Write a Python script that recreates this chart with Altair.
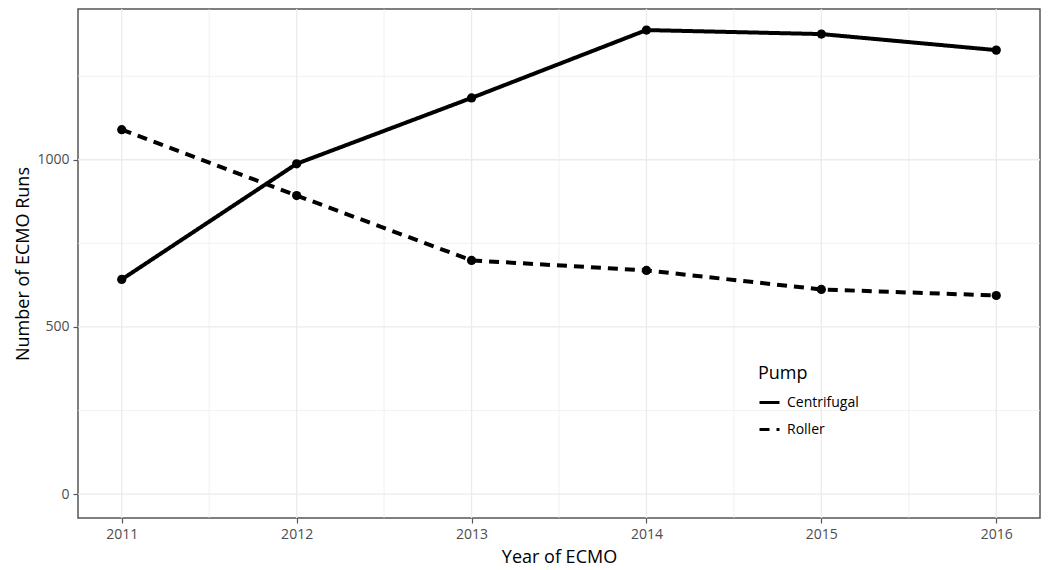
import altair as alt
import pandas as pd

years = [2011, 2012, 2013, 2014, 2015, 2016]
centrifugal = [642, 988, 1185, 1388, 1376, 1328]
roller = [1090, 893, 699, 669, 612, 594]
pumps = ["Centrifugal", "Roller"]
x_major = [2011, 2012, 2013, 2014, 2015, 2016]
x_minor = [2011.5, 2012.5, 2013.5, 2014.5, 2015.5]
y_major = [0, 500, 1000]
y_minor = [250, 750, 1250]

df = pd.DataFrame({
    "Year": years * 2,
    "Runs": centrifugal + roller,
    "Pump": [pumps[0]] * len(years) + [pumps[1]] * len(years),
})

FONT = "Open Sans"
xs = alt.Scale(domain=[2010.75, 2016.25], nice=False, zero=False)
ys = alt.Scale(domain=[-71.6, 1451], nice=False, zero=False)

xminor = alt.Chart(pd.DataFrame({"v": x_minor})).mark_rule(color="#ebebeb", strokeWidth=0.7).encode(
    x=alt.X("v:Q", scale=xs))
yminor = alt.Chart(pd.DataFrame({"v": y_minor})).mark_rule(color="#ebebeb", strokeWidth=0.7).encode(
    y=alt.Y("v:Q", scale=ys))
xmajor = alt.Chart(pd.DataFrame({"v": x_major})).mark_rule(color="#ebebeb", strokeWidth=1.3).encode(
    x=alt.X("v:Q", scale=xs))
ymajor = alt.Chart(pd.DataFrame({"v": y_major})).mark_rule(color="#ebebeb", strokeWidth=1.3).encode(
    y=alt.Y("v:Q", scale=ys))

base = alt.Chart(df)
lines = base.mark_line(color="black", strokeWidth=4).encode(
    x=alt.X("Year:Q", scale=xs, title="Year of ECMO",
            axis=alt.Axis(values=x_major, format="d", grid=False)),
    y=alt.Y("Runs:Q", scale=ys, title="Number of ECMO Runs",
            axis=alt.Axis(values=y_major, format="d", grid=False, titleX=-46)),
    strokeDash=alt.StrokeDash("Pump:N", scale=alt.Scale(domain=pumps, range=[[1, 0], [10, 7]]),
                              legend=alt.Legend(title="Pump", orient="none", legendX=680, legendY=356,
                                                symbolType="stroke", symbolStrokeColor="black",
                                                symbolStrokeWidth=3, symbolSize=400,
                                                titleFontSize=18, titleFontWeight="normal",
                                                titleColor="black", labelFontSize=14,
                                                labelColor="black", rowPadding=8,
                                                titlePadding=8, labelOffset=6)),
)
points = base.mark_circle(color="black", size=85, opacity=1).encode(
    x=alt.X("Year:Q", scale=xs),
    y=alt.Y("Runs:Q", scale=ys),
    detail="Pump:N",
)

chart = alt.layer(xminor, yminor, xmajor, ymajor, lines, points).properties(
    width=962, height=509,
    autosize=alt.AutoSizeParams(type="none"),
    padding={"left": 70, "top": 1, "right": 2, "bottom": 52},
).configure_view(
    stroke="#555555", strokeWidth=1.5
).configure_axis(
    domain=False, tickColor="#555555", tickSize=5, tickWidth=1.2,
    labelFont=FONT, labelFontSize=14, labelColor="#4d4d4d", labelPadding=4,
    titleFont=FONT, titleFontSize=18, titleFontWeight="normal", titleColor="black",
).configure_axisY(titlePadding=2).configure_axisX(titlePadding=7).configure_legend(
    labelFont=FONT, titleFont=FONT
)

chart.save("out.html", embed_options={"renderer": "svg", "actions": False})
